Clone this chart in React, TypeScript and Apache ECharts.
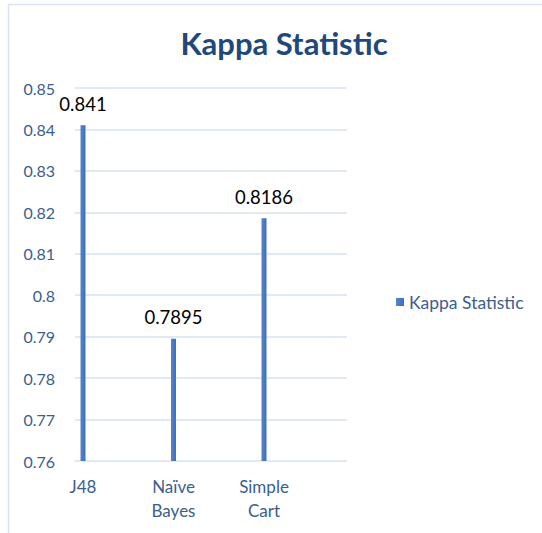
import React, { useEffect, useRef } from "react";
import * as echarts from "echarts";

const categories = ["J48", "Naïve\nBayes", "Simple\nCart", ""];
const kappaValues = [0.841, 0.7895, 0.8186, null];
const seriesName = "Kappa Statistic";
const titleText = "Kappa Statistic";
const yMin = 0.76;
const yMax = 0.85;
const yInterval = 0.01;

const FONT = "Lato, 'Open Sans', sans-serif";
const AXIS_TEXT = "#3b5e8c";
const GRID_LINE = "#d9e2f3";

export default function App() {
  const ref = useRef<HTMLDivElement>(null);
  useEffect(() => {
    if (!ref.current) return;
    const chart = echarts.init(ref.current, undefined, { renderer: "svg" });
    chart.setOption({
      animation: false,
      backgroundColor: "#ffffff",
      textStyle: { fontFamily: FONT },
      title: {
        text: titleText,
        left: 279,
        top: 22,
        textAlign: "center",
        textStyle: { fontFamily: FONT, fontSize: 31, fontWeight: "bold", color: "#1f497d" },
      },
      legend: {
        data: [seriesName],
        left: 391,
        top: 288,
        icon: "rect",
        itemWidth: 8,
        itemHeight: 8,
        itemGap: 6,
        textStyle: { fontFamily: FONT, fontSize: 17.5, color: AXIS_TEXT },
      },
      graphic: [
        {
          type: "rect",
          shape: { x: 8.5, y: 4.5, width: 700, height: 700 },
          style: { fill: "none", stroke: GRID_LINE, lineWidth: 1.5 },
          silent: true,
        },
      ],
      grid: [
        { left: 75, width: 272, top: 88, height: 373 },
        { left: 83, width: 271.5, top: 88, height: 373 },
      ],
      xAxis: [
        { type: "category", gridIndex: 0, data: categories, show: false },
        {
          type: "category",
          gridIndex: 1,
          data: categories,
          boundaryGap: false,
          axisLine: { show: false },
          axisTick: { show: false },
          splitLine: { show: false },
          axisLabel: {
            interval: 0,
            margin: 13,
            fontFamily: FONT,
            fontSize: 17,
            lineHeight: 24,
            color: AXIS_TEXT,
          },
        },
      ],
      yAxis: [
        {
          type: "value",
          gridIndex: 0,
          min: yMin,
          max: yMax,
          interval: yInterval,
          axisLine: { show: false },
          axisTick: { show: false },
          splitLine: { lineStyle: { color: GRID_LINE, width: 1.5 } },
          axisLabel: {
            margin: 20,
            fontFamily: FONT,
            fontSize: 16,
            color: AXIS_TEXT,
            formatter: (v: number) => String(parseFloat(v.toFixed(2))),
          },
        },
        {
          type: "value",
          gridIndex: 1,
          min: yMin,
          max: yMax,
          interval: yInterval,
          show: false,
        },
      ],
      series: [
        {
          name: seriesName,
          type: "bar",
          xAxisIndex: 1,
          yAxisIndex: 1,
          data: kappaValues,
          barWidth: 5,
          itemStyle: {
            color: new echarts.graphic.LinearGradient(0, 0, 1, 0, [
              { offset: 0, color: "#5585cc" },
              { offset: 1, color: "#3f6fb8" },
            ]),
          },
          label: {
            show: true,
            position: "top",
            distance: 12,
            fontFamily: FONT,
            fontSize: 18.5,
            color: "#000000",
            formatter: (p: any) => String(p.value),
          },
        },
      ],
    });
    return () => chart.dispose();
  }, []);
  return (
    <div
      ref={ref}
      style={{ position: "fixed", left: 0, top: 0, width: 542, height: 533 }}
    />
  );
}
